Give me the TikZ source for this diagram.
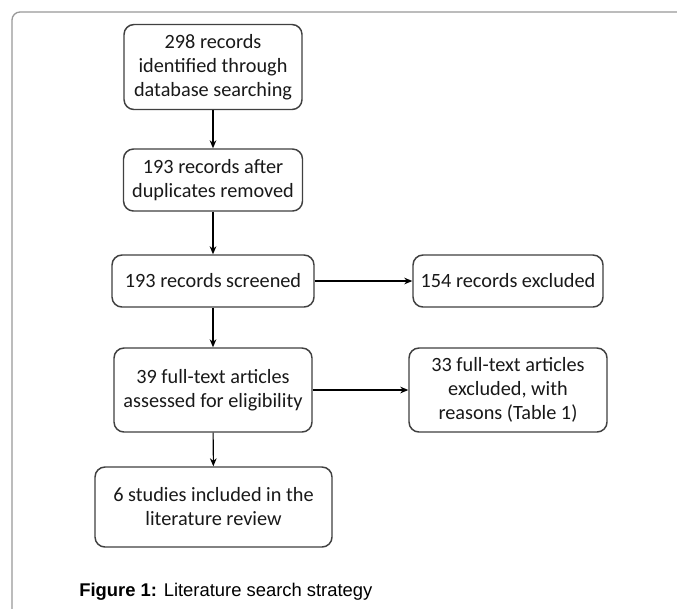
\documentclass[tikz,border=0pt]{standalone}
\usepackage{fontspec}
\setmainfont{Carlito}
\newfontfamily\capfont{Liberation Sans}
\usetikzlibrary{arrows.meta}
\begin{document}
\begin{tikzpicture}[x=0.75pt,y=-0.75pt,
  box/.style={draw=black!75,line width=1.1pt,rounded corners=7.5pt,align=center,inner sep=0pt,text=black!90,font=\fontsize{15.2}{18}\selectfont},
  conn/.style={draw=black,line width=0.8pt,-{Stealth[length=6pt,width=5pt]}}]
\useasboundingbox (0,0) rectangle (677,608);
\fill[white] (0,0) rectangle (677,608);
\draw[gray!80,line width=1pt,rounded corners=6pt] (12,610) -- (12,12) -- (680,12);
\node[box,minimum width=178*0.75pt,minimum height=85*0.75pt] (a) at (213,67) {298 records\\identified through\\database searching};
\node[box,minimum width=179*0.75pt,minimum height=62*0.75pt] (b) at (213,180) {193 records after\\duplicates removed};
\node[box,minimum width=202*0.75pt,minimum height=52*0.75pt] (c) at (213,281) {193 records screened};
\node[box,minimum width=190*0.75pt,minimum height=52*0.75pt] (d) at (508,281) {154 records excluded};
\node[box,minimum width=198*0.75pt,minimum height=84*0.75pt] (e) at (213,390) {39 full-text articles\\assessed for eligibility};
\node[box,minimum width=198*0.75pt,minimum height=84*0.75pt] (f) at (508,390) {33 full-text articles\\excluded, with\\reasons (Table 1)};
\node[box,minimum width=237*0.75pt,minimum height=80*0.75pt] (g) at (213.5,507) {6 studies included in the\\literature review};
\draw[conn] (a) -- (b);
\draw[conn] (b) -- (c);
\draw[conn] (c) -- (d);
\draw[conn] (c) -- (e);
\draw[conn] (e) -- (f);
\draw[conn] (e) -- (g);
\node[anchor=base west,inner sep=0pt,font=\capfont\fontsize{13.8}{16}\selectfont] (cap) at (79,596) {\textbf{Figure 1:} Literature search strategy};
\end{tikzpicture}
\end{document}
